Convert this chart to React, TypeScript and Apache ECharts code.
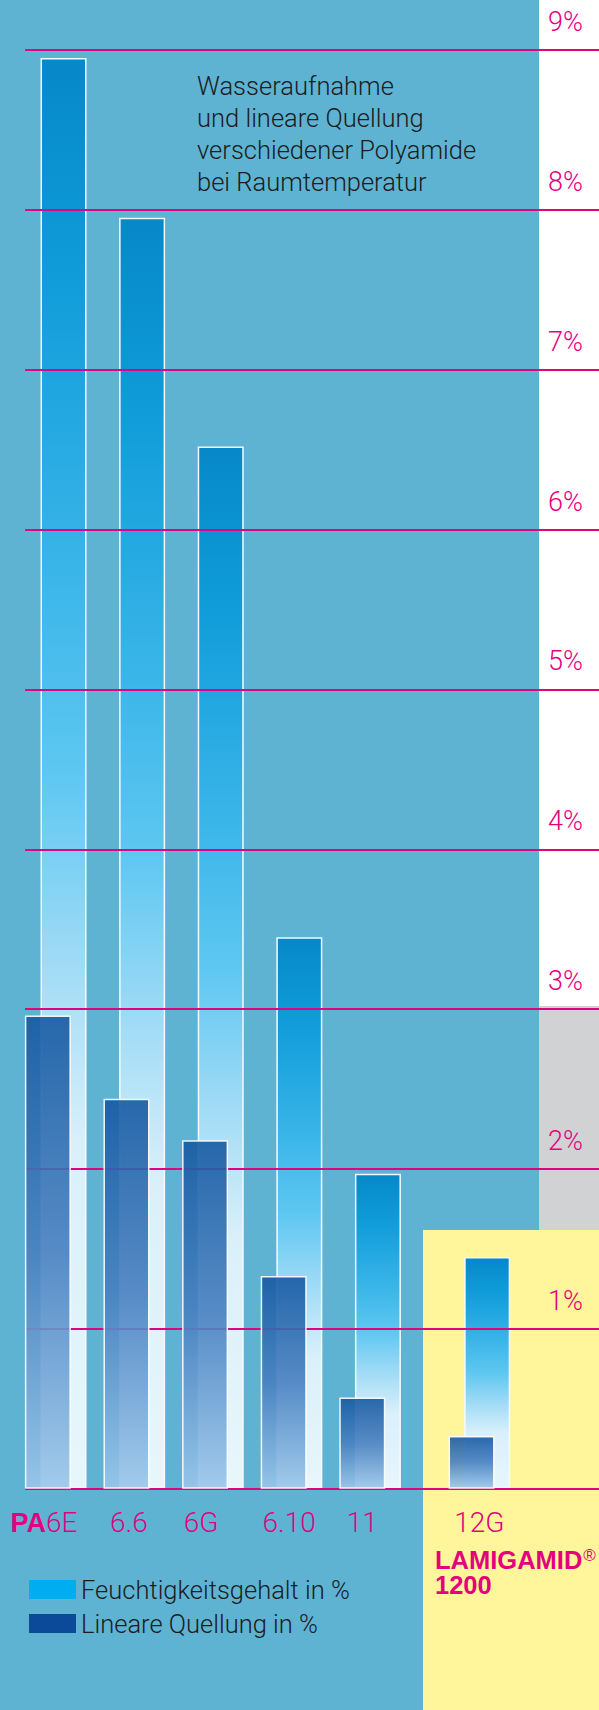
import React, { useEffect, useRef } from 'react';
import * as echarts from 'echarts';

// ---- data ----
const categories = ['PA6E', '6.6', '6G', '6.10', '11', '12G'];
const categoryPositions = [0, 1, 2, 3, 4, 5.39];
const moisture = [8.95, 7.95, 6.52, 3.45, 1.97, 1.45]; // Feuchtigkeitsgehalt in %
const swelling = [2.96, 2.44, 2.18, 1.33, 0.57, 0.33]; // Lineare Quellung in %
const seriesNames = ['Feuchtigkeitsgehalt in %', 'Lineare Quellung in %'];
const titleLines = ['Wasseraufnahme', 'und lineare Quellung', 'verschiedener Polyamide', 'bei Raumtemperatur'];
const yMax = 9;
const yStep = 1;

// ---- layout ----
const labelNudge = [-0.15, -0.07, -0.15, -0.03, -0.1, 0];

export default function App() {
  const ref = useRef<HTMLDivElement>(null);
  useEffect(() => {
    document.body.style.margin = '0';
    const chart = echarts.init(ref.current!, null, { renderer: 'svg' });
    const magenta = '#e5007e';
    const light = 'Roboto, "Liberation Sans", sans-serif';
    const bold = '"Liberation Sans", Arial, sans-serif';
    const labelValues = categoryPositions.map((p, i) => p + labelNudge[i]);
    const nameAt = (v: number) => {
      let best = 0;
      labelValues.forEach((lv, i) => {
        if (Math.abs(lv - v) < Math.abs(labelValues[best] - v)) best = i;
      });
      return categories[best];
    };

    const fGrad = new echarts.graphic.LinearGradient(0, 0, 0, 1, [
      { offset: 0, color: '#0788c8' },
      { offset: 0.15, color: '#0f9cd9' },
      { offset: 0.35, color: '#38b4e8' },
      { offset: 0.5, color: '#5ec7f1' },
      { offset: 0.62, color: '#9ad9f5' },
      { offset: 0.76, color: '#d9f0fa' },
      { offset: 1, color: '#e8f6fc' },
    ]);
    const qGrad = new echarts.graphic.LinearGradient(0, 0, 0, 1, [
      { offset: 0, color: '#175aa2' },
      { offset: 0.5, color: '#4780c0' },
      { offset: 1, color: '#9ac6ea' },
    ]);

    const option: any = {
      animation: false,
      graphic: {
        elements: [
          { type: 'rect', z: -10, silent: true, shape: { x: 0, y: 0, width: 539, height: 1710 }, style: { fill: '#5eb3d3' } },
          { type: 'rect', z: -10, silent: true, shape: { x: 539, y: 1006, width: 60, height: 224 }, style: { fill: '#d1d2d4' } },
          { type: 'rect', z: -9, silent: true, shape: { x: 423, y: 1230, width: 176, height: 480 }, style: { fill: '#fff69b' } },
          {
            type: 'text', z: 10, x: 197, y: 70,
            style: {
              text: titleLines.join('\n'), fontSize: 25.5, lineHeight: 32, fill: '#1c1c1c',
              fontFamily: light, fontWeight: 300, verticalAlign: 'top', align: 'left',
            },
          },
          {
            type: 'text', z: 10, x: 435, y: 1547,
            style: {
              text: '{a|LAMIGAMID}{r|®}\n{a|1200}',
              verticalAlign: 'top', align: 'left',
              rich: {
                a: { fontSize: 25.5, lineHeight: 25, fontWeight: 'bold', fontFamily: bold, fill: magenta, color: magenta },
                r: { fontSize: 17, lineHeight: 25, fontFamily: bold, fill: magenta, color: magenta, verticalAlign: 'top', padding: [0, 0, 8, 1] },
              },
            },
          },
        ],
      },
      grid: { left: 25, right: 0, top: 50, bottom: 221.3, containLabel: false, outerBoundsMode: 'none' },
      legend: {
        orient: 'vertical', left: 29, top: 1576.5, padding: 0,
        itemWidth: 47, itemHeight: 19, itemGap: 8, icon: 'rect', selectedMode: false,
        textStyle: { fontSize: 25.5, lineHeight: 26, color: '#1c1c1c', fontFamily: light, fontWeight: 300 },
        itemStyle: { borderWidth: 0 },
        data: [
          { name: seriesNames[0], itemStyle: { color: '#00aeef', borderWidth: 0, opacity: 1 } },
          { name: seriesNames[1], itemStyle: { color: '#0b4a99', borderWidth: 0, opacity: 1 } },
        ],
      },
      xAxis: {
        type: 'value', min: -0.3906, max: 6.912,
        axisLine: { show: false }, axisTick: { show: false }, splitLine: { show: false },
        axisLabel: {
          customValues: labelValues,
          margin: 20,
          formatter: (v: number) => {
            const n = nameAt(v);
            return n.startsWith('PA') ? '{b|PA}{n|' + n.slice(2) + '}' : '{n|' + n + '}';
          },
          rich: {
            b: { fontSize: 27, lineHeight: 28, fontWeight: 'bold', fontFamily: bold, color: magenta },
            n: { fontSize: 28, lineHeight: 28, fontFamily: light, fontWeight: 300, color: magenta },
          },
        },
      },
      yAxis: {
        type: 'value', position: 'right', min: 0, max: yMax, interval: yStep,
        axisLine: { show: false }, axisTick: { show: false },
        splitLine: { show: true, lineStyle: { color: '#e0037f', width: 2 } },
        axisLabel: {
          inside: true, margin: 16, color: magenta, fontSize: 27, lineHeight: 56,
          fontFamily: light, fontWeight: 300, verticalAlign: 'bottom',
          formatter: (v: number) => (v === 0 ? '' : v + '%'),
        },
      },
      series: [
        {
          name: seriesNames[1], type: 'bar', z: 3, barWidth: 46, barGap: '-66%',
          data: categoryPositions.map((p, i) => [p, swelling[i]]),
          itemStyle: { color: qGrad, borderColor: '#ffffff', borderWidth: 1.5, opacity: 0.9 },
        },
        {
          name: seriesNames[0], type: 'bar', z: -1, barWidth: 46, barGap: '-66%',
          data: categoryPositions.map((p, i) => [p, moisture[i]]),
          itemStyle: { color: fGrad, borderColor: '#f4fbff', borderWidth: 1.5 },
        },
      ],
    };
    chart.setOption(option);
    return () => chart.dispose();
  }, []);
  return <div ref={ref} style={{ width: 599, height: 1710, position: 'absolute', left: 0, top: 0 }} />;
}
